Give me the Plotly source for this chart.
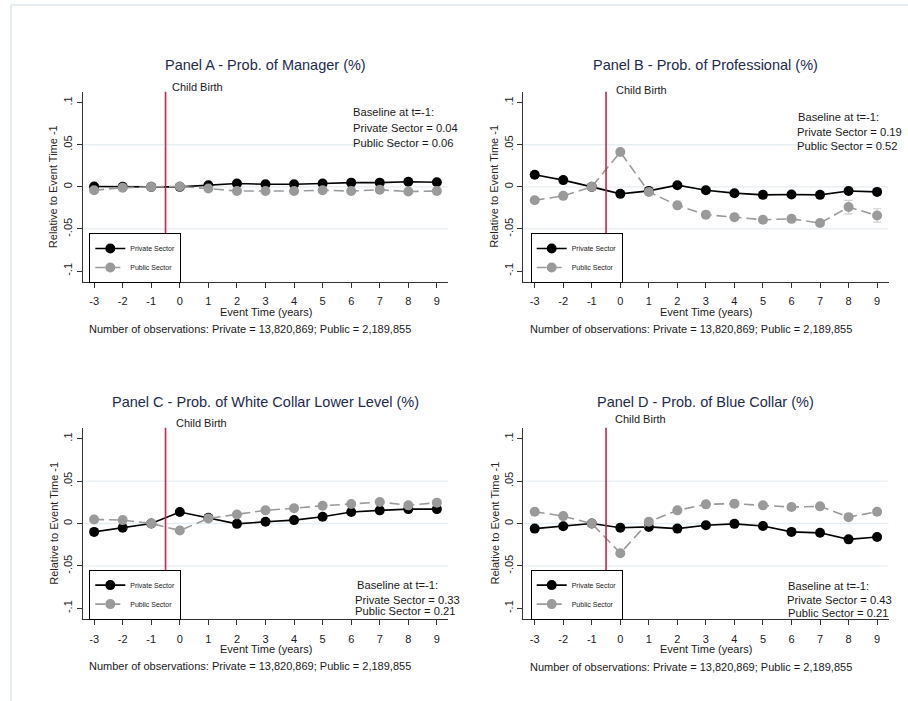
import plotly.graph_objects as go

# Event time (years relative to child birth)
event_time = [-3, -2, -1, 0, 1, 2, 3, 4, 5, 6, 7, 8, 9]
x_tick_labels = [str(t) for t in event_time]
y_tick_vals = [-0.1, -0.05, 0, 0.05, 0.1]
y_tick_labels = ["-.1", "-.05", "0", ".05", ".1"]
grid_vals = [-0.05, 0, 0.05]

# Panel A - Manager
manager_private = [0.0005, 0.0, 0.0, 0.0, 0.002, 0.004, 0.003, 0.003, 0.004, 0.005, 0.005, 0.006, 0.0055]
manager_public = [-0.004, -0.001, 0.0, 0.0005, -0.002, -0.005, -0.005, -0.005, -0.004, -0.005, -0.0035, -0.0055, -0.005]

# Panel B - Professional
professional_private = [0.0143, 0.008, 0.0, -0.0083, -0.0048, 0.002, -0.004, -0.0075, -0.0095, -0.009, -0.0095, -0.005, -0.006]
professional_public = [-0.016, -0.0107, 0.0, 0.0413, -0.006, -0.022, -0.033, -0.036, -0.039, -0.038, -0.043, -0.024, -0.034]
professional_public_ci = [0, 0, 0, 0, 0, 0, 0, 0, 0, 0, 0, 0.008, 0.008]

# Panel C - White collar lower level
wclower_private = [-0.0099, -0.005, 0.0, 0.0135, 0.0067, -0.0004, 0.002, 0.004, 0.008, 0.0135, 0.0155, 0.017, 0.017]
wclower_public = [0.0048, 0.004, 0.0, -0.0083, 0.006, 0.0107, 0.0155, 0.0179, 0.021, 0.023, 0.0254, 0.0214, 0.0246]

# Panel D - Blue collar
blue_private = [-0.006, -0.0032, 0.0, -0.005, -0.004, -0.006, -0.002, -0.0004, -0.003, -0.0099, -0.011, -0.0187, -0.016]
blue_public = [0.0139, 0.0087, 0.0, -0.035, 0.002, 0.0155, 0.0226, 0.0234, 0.0214, 0.0194, 0.0202, 0.0075, 0.0139]

panel_titles = [
    "Panel A - Prob. of Manager (%)",
    "Panel B - Prob. of Professional (%)",
    "Panel C - Prob. of White Collar Lower Level (%)",
    "Panel D - Prob. of Blue Collar (%)",
]
baseline_lines = [
    ["Baseline at t=-1:", "Private Sector = 0.04", "Public Sector = 0.06"],
    ["Baseline at t=-1:", "Private Sector = 0.19", "Public Sector = 0.52"],
    ["Baseline at t=-1:", "Private Sector = 0.33", "Public Sector = 0.21"],
    ["Baseline at t=-1:", "Private Sector = 0.43", "Public Sector = 0.21"],
]
obs_note = "Number of observations: Private = 13,820,869; Public = 2,189,855"
event_line_x = -0.5

W, H = 908, 701
FONT = "Liberation Sans, Arial, sans-serif"
TITLE_COLOR = "#1e2b4d"
AXIS_COLOR = "#333333"
TEXT_COLOR = "#1a1a1a"
GRID_COLOR = "#e6eef1"
PRIVATE_COLOR = "#000000"
PUBLIC_COLOR = "#9a9a9a"
EVENT_COLOR = "#c8234e"
BODY = 11


def px_x(p):
    return p / W


def px_y(p):
    return 1 - p / H


# plot-area boxes in pixels: (left, right, top, bottom)
boxes = [
    (82.7, 448.3, 91.7, 282.0),
    (523.3, 888.5, 91.7, 282.0),
    (82.7, 448.3, 427.7, 619.3),
    (523.3, 888.5, 427.7, 619.3),
]

panels = [
    (manager_private, manager_public, None),
    (professional_private, professional_public, professional_public_ci),
    (wclower_private, wclower_public, None),
    (blue_private, blue_public, None),
]

# text positions (pixels)
child_offsets = [(4, 5), (8, 1.7), (8, 5), (7, 8.4)]
baseline_pos = [
    [(351.3, 112.3), (351.3, 128.0), (351.3, 143.3)],
    [(796.0, 117.3), (795.3, 131.7), (795.0, 145.7)],
    [(355.3, 585.3), (353.3, 600.0), (353.3, 610.7)],
    [(786.0, 586.3), (784.7, 599.7), (786.0, 613.3)],
]
title_y = [65, 65, 401.7, 401.7]
ytitle_x = [53.3, 494.0, 53.3, 494.0]
note_pos = [(86.7, 329.3), (527.7, 329.3), (86.7, 665.7), (527.7, 666.7)]
xtitle_y = [312.3, 312.3, 648.7, 648.7]
legend_pos = [(89.3, 233.0), (530.7, 233.0), (89.3, 569.6), (530.7, 569.6)]

fig = go.Figure()
annotations = []
shapes = []
layout = {}

for i, (priv, pub, pub_ci) in enumerate(panels):
    n = i + 1
    xa = "x" if n == 1 else f"x{n}"
    ya = "y" if n == 1 else f"y{n}"
    xkey = "xaxis" if n == 1 else f"xaxis{n}"
    ykey = "yaxis" if n == 1 else f"yaxis{n}"
    lg = "legend" if n == 1 else f"legend{n}"
    left, right, top, bottom = boxes[i]

    layout[xkey] = dict(
        domain=[px_x(left), px_x(right)], anchor=ya, range=[-3.4, 9.4],
        tickmode="array", tickvals=event_time, ticktext=x_tick_labels,
        showline=True, linecolor=AXIS_COLOR, linewidth=1.3, mirror=False,
        ticks="outside", ticklen=5, tickwidth=1.2, tickcolor=AXIS_COLOR,
        ticklabelstandoff=4,
        showgrid=False, zeroline=False,
        tickfont=dict(size=BODY, color=TEXT_COLOR, family=FONT),
    )
    layout[ykey] = dict(
        domain=[px_y(bottom), px_y(top)], anchor=xa, range=[-0.113, 0.113],
        tickmode="array", tickvals=y_tick_vals, ticktext=y_tick_labels,
        tickangle=-90,
        showline=True, linecolor=AXIS_COLOR, linewidth=1.3, mirror=False,
        ticks="outside", ticklen=5, tickwidth=1.2, tickcolor=AXIS_COLOR,
        showgrid=False, zeroline=False,
        tickfont=dict(size=BODY, color=TEXT_COLOR, family=FONT),
    )

    # horizontal gridlines
    for g in grid_vals:
        shapes.append(dict(type="line", xref=f"{xa} domain", yref=ya,
                           x0=0, x1=1, y0=g, y1=g, layer="below",
                           line=dict(color=GRID_COLOR, width=1.3)))
    # child birth marker
    shapes.append(dict(type="line", xref=xa, yref=f"{ya} domain",
                       x0=event_line_x, x1=event_line_x, y0=0, y1=1,
                       layer="above", line=dict(color=EVENT_COLOR, width=1.6)))
    annotations.append(dict(
        text="Child Birth", xref=xa, yref=f"{ya} domain",
        x=event_line_x, y=1, xanchor="left", yanchor="middle",
        xshift=child_offsets[i][0], yshift=child_offsets[i][1],
        showarrow=False, font=dict(size=BODY, color=TEXT_COLOR, family=FONT)))

    err = None
    if pub_ci is not None:
        err = dict(type="data", array=pub_ci, visible=True,
                   color="#d0d0d0", thickness=1.2, width=4)

    fig.add_trace(go.Scatter(
        x=event_time, y=priv, name="Private Sector", mode="lines+markers",
        xaxis=xa, yaxis=ya, legend=lg,
        line=dict(color=PRIVATE_COLOR, width=1.6),
        marker=dict(color=PRIVATE_COLOR, size=10),
    ))
    fig.add_trace(go.Scatter(
        x=event_time, y=pub, name="Public Sector", mode="lines+markers",
        xaxis=xa, yaxis=ya, legend=lg, error_y=err,
        line=dict(color=PUBLIC_COLOR, width=1.6, dash="10px,5px"),
        marker=dict(color=PUBLIC_COLOR, size=10),
    ))

    lx, ly = legend_pos[i]
    layout[lg] = dict(
        x=px_x(lx), y=px_y(ly), xanchor="left", yanchor="top",
        bgcolor="white", bordercolor="black", borderwidth=1,
        traceorder="normal",
        font=dict(size=7, color=TEXT_COLOR, family=FONT),
    )

    # panel title
    annotations.append(dict(
        text=panel_titles[i], xref="paper", yref="paper",
        x=px_x((left + right) / 2), y=px_y(title_y[i]),
        xanchor="center", yanchor="middle", showarrow=False,
        font=dict(size=14.5, color=TITLE_COLOR, family=FONT)))
    # y-axis title
    annotations.append(dict(
        text="Relative to Event Time -1", xref="paper", yref="paper",
        x=px_x(ytitle_x[i]), y=px_y((top + bottom) / 2), textangle=-90,
        xanchor="center", yanchor="middle", showarrow=False,
        font=dict(size=BODY, color="#2a1f22", family=FONT)))
    # x-axis title
    annotations.append(dict(
        text="Event Time (years)", xref="paper", yref="paper",
        x=px_x((left + right) / 2), y=px_y(xtitle_y[i]),
        xanchor="center", yanchor="middle", showarrow=False,
        font=dict(size=BODY, color=TEXT_COLOR, family=FONT)))
    # observation note
    nx, ny = note_pos[i]
    annotations.append(dict(
        text=obs_note, xref="paper", yref="paper",
        x=px_x(nx), y=px_y(ny), xanchor="left", yanchor="middle",
        showarrow=False, font=dict(size=BODY, color=TEXT_COLOR, family=FONT)))
    # baseline block
    for line_text, (bx, by) in zip(baseline_lines[i], baseline_pos[i]):
        annotations.append(dict(
            text=line_text, xref="paper", yref="paper",
            x=px_x(bx), y=px_y(by), xanchor="left", yanchor="middle",
            showarrow=False, font=dict(size=11.2, color=TEXT_COLOR, family=FONT)))

# outer frame (top and left edges)
shapes.append(dict(type="line", xref="paper", yref="paper",
                   x0=px_x(11), x1=1.01, y0=px_y(5), y1=px_y(5),
                   line=dict(color=GRID_COLOR, width=2)))
shapes.append(dict(type="line", xref="paper", yref="paper",
                   x0=px_x(11), x1=px_x(11), y0=px_y(5), y1=-0.01,
                   line=dict(color=GRID_COLOR, width=2)))

fig.update_layout(
    width=W, height=H,
    margin=dict(l=0, r=0, t=0, b=0),
    paper_bgcolor="white", plot_bgcolor="white",
    font=dict(family=FONT, color=TEXT_COLOR),
    showlegend=True,
    annotations=annotations, shapes=shapes,
    **layout,
)

fig.write_html("out.html")
